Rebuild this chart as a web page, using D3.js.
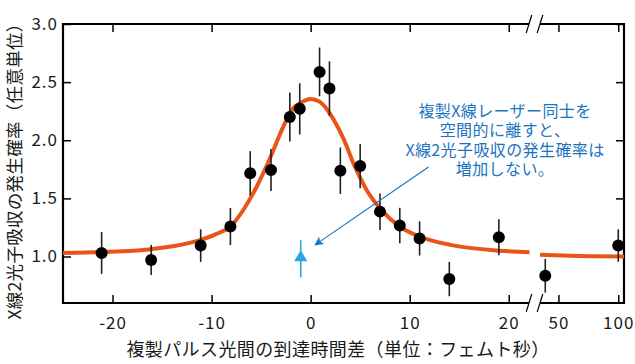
<!DOCTYPE html>
<html><head><meta charset="utf-8">
<script src="https://cdn.jsdelivr.net/npm/d3@7"></script>
<style>
html,body{margin:0;padding:0;background:#fff;}
svg{display:block;font-family:"Noto Sans CJK JP","Noto Sans",sans-serif;}
</style></head>
<body><svg id="c" width="635" height="364"></svg>
<script>
// ---- data ----
const ptX1 = [-21.1, -16.1, -11.1, -8.1, -6.1, -4.0, -2.1, -1.1, 0.9, 1.9, 3.0, 5.0, 7.0, 9.0, 11.0, 14.0, 19.0];
const ptY1 = [1.03, 0.97, 1.094, 1.258, 1.716, 1.744, 2.20, 2.27, 2.588, 2.445, 1.738, 1.778, 1.386, 1.266, 1.155, 0.806, 1.166];
const ptE1 = [0.18, 0.13, 0.14, 0.16, 0.19, 0.18, 0.21, 0.22, 0.21, 0.235, 0.20, 0.19, 0.157, 0.153, 0.147, 0.148, 0.155];
const ptX2 = [39, 100];
const ptY2 = [0.834, 1.094];
const ptE2 = [0.145, 0.14];
const triX = [-1.0];
const triY = [1.0];
const triLo = [0.82];
const triHi = [1.14];
const fitX1 = [-25, -21.1, -16.1, -11.1, -9.5, -8.1, -6.8, -5.45, -4.04, -2.77, -1.76, -1.05, 0, 0.94, 1.95, 3.3, 4.47, 5.65, 7.0, 9.0, 11.0, 14.1, 19.1, 22.1];
const fitY1 = [1.03, 1.038, 1.063, 1.143, 1.195, 1.258, 1.40, 1.60, 1.858, 2.116, 2.274, 2.32, 2.355, 2.33, 2.23, 2.016, 1.773, 1.573, 1.415, 1.258, 1.172, 1.10, 1.05, 1.037];
const fitX2 = [34.6, 60, 80, 104.8];
const fitY2 = [1.015, 1.006, 1.002, 1.0];
const xTicks1 = [-20, -10, 0, 10, 20];
const xTicks2 = [50, 100];
const yTicks = [1.0, 1.5, 2.0, 2.5, 3.0];
const annotation = ["複製X線レーザー同士を", "空間的に離すと、", "X線2光子吸収の発生確率は", "増加しない。"];
const xTitle = "複製パルス光間の到達時間差（単位：フェムト秒）";
const yTitle = "X線2光子吸収の発生確率（任意単位）";

// ---- layout ----
const L = 63, R = 624, T = 24, B = 303, BRK = 534.5;
const svg = d3.select("#c");
const y = d3.scaleLinear().domain([0.6, 3.0]).range([B, T]);
const x1 = d3.scaleLinear().domain([-25, 22.6]).range([L, BRK]);
const x2 = d3.scaleLinear().domain([30, 104.8]).range([BRK, R]);

const ORANGE = "#EA5418", BLUE = "#1B74BE", LBLUE = "#2EA7E0";

// axes ticks (inward)
function styleAxis(g, showLabels) {
  g.select(".domain").remove();
  g.selectAll(".tick line").attr("stroke", "#000").attr("stroke-width", 1.5);
  if (!showLabels) g.selectAll(".tick text").remove();
  else g.selectAll(".tick text").attr("fill", "#1a1a1a").style("font-size", "17px").style("letter-spacing", "1px")
        .style("font-family", "'Noto Sans CJK JP','Noto Sans',sans-serif");
}
const fmtX = d => d3.format("d")(d).replace("−", "-");
svg.append("g").attr("transform", `translate(0,${B})`)
  .call(d3.axisBottom(x1).tickValues(xTicks1).tickSize(-8).tickPadding(14).tickFormat(fmtX))
  .call(g => styleAxis(g, true));
svg.append("g").attr("transform", `translate(0,${B})`)
  .call(d3.axisBottom(x2).tickValues(xTicks2).tickSize(-8).tickPadding(14).tickFormat(fmtX))
  .call(g => styleAxis(g, true));
svg.append("g").attr("transform", `translate(0,${T})`)
  .call(d3.axisTop(x1).tickValues(xTicks1).tickSize(-8))
  .call(g => styleAxis(g, false));
svg.append("g").attr("transform", `translate(0,${T})`)
  .call(d3.axisTop(x2).tickValues(xTicks2).tickSize(-8))
  .call(g => styleAxis(g, false));
svg.append("g").attr("transform", `translate(${L},0)`)
  .call(d3.axisLeft(y).tickValues(yTicks).tickSize(-8).tickPadding(5).tickFormat(d3.format(".1f")))
  .call(g => styleAxis(g, true));
svg.append("g").attr("transform", `translate(${R},0)`)
  .call(d3.axisRight(y).tickValues(yTicks).tickSize(-8))
  .call(g => styleAxis(g, false));

// frame with breaks
const fr = svg.append("g").attr("stroke", "#000").attr("stroke-width", 2.2).attr("fill", "none");
const gapL = BRK - 5.5, gapR = BRK + 5.5;
fr.append("path").attr("d", `M${gapL},${T}H${L}V${B}H${gapL}`);
fr.append("path").attr("d", `M${gapR},${T}H${R}V${B}H${gapR}`);
const sl = svg.append("g").attr("stroke", "#000").attr("stroke-width", 1.2);
[T, B].forEach(yy => {
  [gapL, gapR].forEach(xx => {
    sl.append("line").attr("x1", xx - 2.8).attr("y1", yy + 9).attr("x2", xx + 2.8).attr("y2", yy - 9);
  });
});

// fit curves
const line1 = d3.line().x(d => x1(d[0])).y(d => y(d[1])).curve(d3.curveMonotoneX);
const line2 = d3.line().x(d => x2(d[0])).y(d => y(d[1])).curve(d3.curveMonotoneX);
svg.append("path").attr("d", line1(d3.zip(fitX1, fitY1))).attr("fill", "none").attr("stroke", ORANGE).attr("stroke-width", 4);
svg.append("path").attr("d", line2(d3.zip(fitX2, fitY2))).attr("fill", "none").attr("stroke", ORANGE).attr("stroke-width", 4);

// error bars & points
const pts = d3.zip(ptX1, ptY1, ptE1).map(d => ({px: x1(d[0]), v: d[1], e: d[2]}))
  .concat(d3.zip(ptX2, ptY2, ptE2).map(d => ({px: x2(d[0]), v: d[1], e: d[2]})));
svg.append("g").selectAll("line").data(pts).join("line")
  .attr("x1", d => d.px).attr("x2", d => d.px)
  .attr("y1", d => y(d.v - d.e)).attr("y2", d => y(d.v + d.e))
  .attr("stroke", "#222").attr("stroke-width", 1.6);
svg.append("g").selectAll("circle").data(pts).join("circle")
  .attr("cx", d => d.px).attr("cy", d => y(d.v)).attr("r", 6).attr("fill", "#000");

// triangle marker
const tri = d3.zip(triX, triY, triLo, triHi);
svg.append("g").selectAll("line").data(tri).join("line")
  .attr("x1", d => x1(d[0])).attr("x2", d => x1(d[0]))
  .attr("y1", d => y(d[2])).attr("y2", d => y(d[3]))
  .attr("stroke", LBLUE).attr("stroke-width", 1.6);
svg.append("g").selectAll("path").data(tri).join("path")
  .attr("transform", d => `translate(${x1(d[0])},${y(d[1]) + 1})`)
  .attr("d", d3.symbol(d3.symbolTriangle, 75)).attr("fill", LBLUE);

// annotation arrow
const defs = svg.append("defs");
defs.append("marker").attr("id", "ah").attr("viewBox", "0 0 10 10").attr("refX", 9).attr("refY", 5)
  .attr("markerWidth", 9).attr("markerHeight", 9).attr("markerUnits", "userSpaceOnUse").attr("orient", "auto")
  .append("path").attr("d", "M0,0L10,5L0,10L2.5,5Z").attr("fill", BLUE);
svg.append("line").attr("x1", x1(11.9)).attr("y1", y(1.77)).attr("x2", x1(0.45)).attr("y2", y(1.1))
  .attr("stroke", BLUE).attr("stroke-width", 1.2).attr("marker-end", "url(#ah)");

const at = svg.append("text").attr("fill", BLUE).attr("text-anchor", "middle")
  .style("font-size", "16px").style("letter-spacing", "0.4px");
annotation.forEach((s, i) => {
  at.append("tspan").attr("x", 505).attr("y", 117 + i * 19.3).text(s);
});

// axis titles
svg.append("text").attr("x", 338).attr("y", 356).attr("text-anchor", "middle")
  .attr("fill", "#1a1a1a").style("font-size", "18px").style("letter-spacing", "0.4px").text(xTitle);
svg.append("text").attr("transform", "translate(21,167) rotate(-90)").attr("text-anchor", "middle")
  .attr("fill", "#1a1a1a").style("font-size", "17.5px").style("letter-spacing", "0.3px").text(yTitle);
</script></body></html>
